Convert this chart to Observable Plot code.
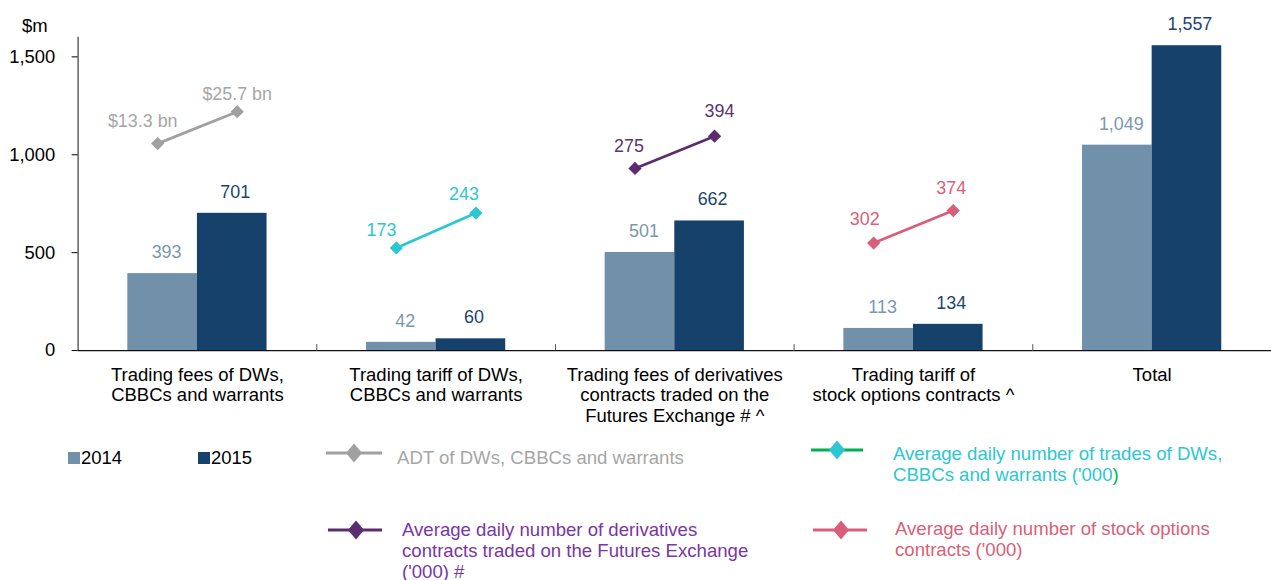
<!DOCTYPE html>
<html><head><meta charset="utf-8">
<script src="https://cdn.jsdelivr.net/npm/d3@7"></script>
<script src="https://cdn.jsdelivr.net/npm/@observablehq/plot@0.6"></script>
<style>
html,body{margin:0;padding:0;overflow:hidden;background:#fff;}
#wrap{position:relative;width:1271px;height:580px;overflow:hidden;font-family:"Liberation Sans",Arial,sans-serif;}
#chart{position:absolute;left:0;top:0;}
.lg{position:absolute;font-size:18.6px;line-height:21.3px;white-space:pre;}
</style></head><body>
<div id="wrap"><div id="chart"></div></div>
<script>
// ---------- data ----------
const categories = [
  "Trading fees of DWs,\nCBBCs and warrants",
  "Trading tariff of DWs,\nCBBCs and warrants",
  "Trading fees of derivatives\ncontracts traded on the\nFutures Exchange # ^",
  "Trading tariff of\nstock options contracts ^",
  "Total"
];
const years = ["2014", "2015"];
const values2014 = [393, 42, 501, 113, 1049];
const values2015 = [701, 60, 662, 134, 1557];
const yTicks = [0, 500, 1000, 1500];
const yMax = 1600;
const unitLabel = "$m";

const lineNames = [
  "ADT of DWs, CBBCs and warrants",
  "Average daily number of trades of DWs,\nCBBCs and warrants ('000)",
  "Average daily number of derivatives\ncontracts traded on the Futures Exchange\n('000) #",
  "Average daily number of stock options\ncontracts ('000)"
];
const lineCategory = [0, 1, 2, 3];
// plotted height of the overlay lines, read on the $m axis
const lineLevel2014 = [1057, 524, 930, 549];
const lineLevel2015 = [1220, 702, 1095, 715];
const lineLabel2014 = ["$13.3 bn", "173", "275", "302"];
const lineLabel2015 = ["$25.7 bn", "243", "394", "374"];

// ---------- styles / layout ----------
const font = '"Liberation Sans", Arial, sans-serif';
const barColors = {"2014": "#7190A9", "2015": "#16416A"};
const barLabelColors = {"2014": "#7B97B0", "2015": "#1B4570"};
const lineColors = ["#A0A0A0", "#2CC7D2", "#5C2D6E", "#D95F78"];
const lineLabelColors = ["#A6A6A6", "#2CC7D2", "#5C3470", "#D95F78"];
const legendTextColors = ["#A6A6A6", "#2CC7D2", "#7A35A3", "#D95F78"];
const legendLineColors = ["#A0A0A0", "#00B050", "#5C2D6E", "#D95F78"];
const legendLastCharColor = [null, "#00B050", null, null];
const labelOffset2014 = [[-15, -22], [-15, -18], [-6, -22], [-9, -24]];
const labelOffset2015 = [[0, -18], [-12, -19], [5, -25], [-2, -22]];

const marginLeft = 78, facetWidth = 240, paddingOuter = 0.5;
const step = facetWidth / (years.length + 2 * paddingOuter); // x band step inside a facet
const width = marginLeft + facetWidth * categories.length;

// ---------- tables ----------
const fmt = d3.format(",");
const bars = [];
categories.forEach((cat, i) => {
  bars.push({cat, year: years[0], value: values2014[i]});
  bars.push({cat, year: years[1], value: values2015[i]});
});
const lineRows = lineNames.map((name, s) => [
  {s, cat: categories[lineCategory[s]], year: years[0], level: lineLevel2014[s], label: lineLabel2014[s]},
  {s, cat: categories[lineCategory[s]], year: years[1], level: lineLevel2015[s], label: lineLabel2015[s]}
]);

// ---------- marks ----------
const marks = [];
years.forEach((yr, k) => {
  const data = bars.filter(d => d.year === yr);
  marks.push(Plot.barY(data, {
    fx: "cat", x: "year", y: "value", fill: barColors[yr],
    insetLeft: k === 0 ? 10 : 0, insetRight: k === 1 ? 10 : 0
  }));
  marks.push(Plot.text(data, {
    fx: "cat", x: "year", y: "value", text: d => fmt(d.value),
    fill: barLabelColors[yr], dy: -21.5, dx: k === 0 ? 9 : -2, fontSize: 18
  }));
});
marks.push(Plot.ruleY([0], {stroke: "#111", strokeWidth: 1.2}));
// small ticks at the group boundaries
marks.push(Plot.ruleX(categories.slice(1), {fx: d => d, x: () => years[0], dx: -step, y1: yMax, y2: 0, insetTop: 309, stroke: "#555"}));
// vertical y-axis line on the first facet
marks.push(Plot.ruleX(categories.slice(0, 1), {fx: d => d, x: () => years[0], dx: -step, y1: yMax, y2: 0, stroke: "#111"}));
marks.push(Plot.axisY({ticks: yTicks, tickFormat: fmt, tickSize: 6, tickPadding: 17, label: null, fontSize: 18.5}));
marks.push(Plot.text(categories, {
  fx: d => d, text: d => d, frameAnchor: "bottom", lineAnchor: "top",
  dy: 15.5, lineHeight: 1.12, fontSize: 18.6, fill: "#000"
}));
lineRows.forEach((rows, s) => {
  marks.push(Plot.line(rows, {fx: "cat", x: "year", y: "level", stroke: lineColors[s], strokeWidth: 2.75}));
  marks.push(Plot.dot(rows, {fx: "cat", x: "year", y: "level", symbol: "diamond2", r: 6, fill: lineColors[s], stroke: "none"}));
  marks.push(Plot.text([rows[0]], {fx: "cat", x: "year", y: "level", text: "label", fill: lineLabelColors[s], fontSize: 18, dx: labelOffset2014[s][0], dy: labelOffset2014[s][1]}));
  marks.push(Plot.text([rows[1]], {fx: "cat", x: "year", y: "level", text: "label", fill: lineLabelColors[s], fontSize: 18, dx: labelOffset2015[s][0], dy: labelOffset2015[s][1]}));
});

const chart = Plot.plot({
  width, height: 440,
  marginLeft, marginRight: 0, marginTop: 37, marginBottom: 88,
  fx: {domain: categories, padding: 0, axis: null, label: null},
  x: {domain: years, paddingInner: 0, paddingOuter, axis: null},
  y: {domain: [0, yMax]},
  style: {fontFamily: font, fontSize: "18px", color: "#000", background: "transparent", overflow: "visible"},
  marks
});
document.getElementById("chart").appendChild(chart);

// ---------- unit label & legend (HTML, around the SVG) ----------
const wrap = document.getElementById("wrap");
function addText(txt, left, cy, color, lastColor, size) {
  const div = document.createElement("div");
  div.className = "lg";
  div.style.left = left + "px";
  div.style.top = (cy - 10.5) + "px";
  div.style.color = color;
  if (size) div.style.fontSize = size + "px";
  if (lastColor) {
    div.textContent = txt.slice(0, -1);
    const sp = document.createElement("span");
    sp.style.color = lastColor;
    sp.textContent = txt.slice(-1);
    div.appendChild(sp);
  } else div.textContent = txt;
  wrap.appendChild(div);
}
addText(unitLabel, 22, 25, "#000", null, 18.5);

const barLegend = [{left: 68, top: 452}, {left: 198, top: 452}];
years.forEach((yr, k) => {
  const sq = document.createElement("div");
  sq.style.cssText = `position:absolute;left:${barLegend[k].left}px;top:${barLegend[k].top}px;width:12px;height:12px;background:${barColors[yr]}`;
  wrap.appendChild(sq);
  addText(yr, barLegend[k].left + 13, 457.5, "#000", null, 18.5);
});

const legendLayout = [
  {x1: 326, x2: 382, y: 453, cx: 354, tx: 397, ty: 457},
  {x1: 811, x2: 863, y: 450, cx: 837, tx: 893, ty: 453},
  {x1: 328, x2: 382, y: 530, cx: 356, tx: 402, ty: 529},
  {x1: 813, x2: 867, y: 530, cx: 841, tx: 895, ty: 528}
];
const NS = "http://www.w3.org/2000/svg";
const sw = document.createElementNS(NS, "svg");
sw.setAttribute("width", 1271); sw.setAttribute("height", 580);
sw.style.cssText = "position:absolute;left:0;top:0;pointer-events:none";
legendLayout.forEach((L, s) => {
  const ln = document.createElementNS(NS, "line");
  ln.setAttribute("x1", L.x1); ln.setAttribute("x2", L.x2);
  ln.setAttribute("y1", L.y); ln.setAttribute("y2", L.y);
  ln.setAttribute("stroke", legendLineColors[s]); ln.setAttribute("stroke-width", 3);
  sw.appendChild(ln);
  const pg = document.createElementNS(NS, "polygon");
  const hw = 8, hh = 9.5;
  pg.setAttribute("points", `${L.cx},${L.y - hh} ${L.cx + hw},${L.y} ${L.cx},${L.y + hh} ${L.cx - hw},${L.y}`);
  pg.setAttribute("fill", lineColors[s]);
  sw.appendChild(pg);
  addText(lineNames[s], L.tx, L.ty, legendTextColors[s], legendLastCharColor[s]);
});
wrap.appendChild(sw);
</script>
</body></html>
